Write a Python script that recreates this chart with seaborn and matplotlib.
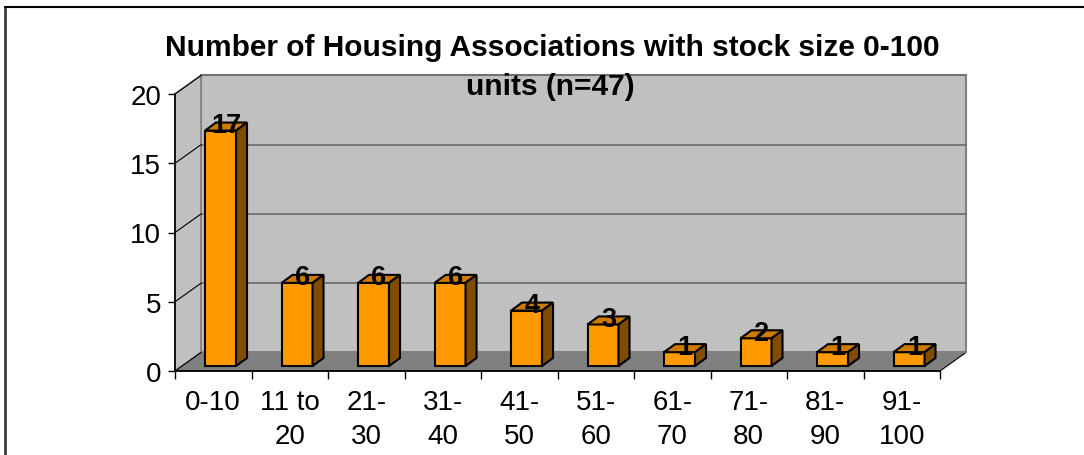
import matplotlib
matplotlib.use("Agg")
import matplotlib.pyplot as plt
from matplotlib.patches import Polygon
from matplotlib.lines import Line2D
import seaborn as sns
import pandas as pd

categories = ["0-10", "11 to\n20", "21-\n30", "31-\n40", "41-\n50",
              "51-\n60", "61-\n70", "71-\n80", "81-\n90", "91-\n100"]
values = [17, 6, 6, 6, 4, 3, 1, 2, 1, 1]
yticks = [0, 5, 10, 15, 20]
title_line1 = "Number of Housing Associations with stock size 0-100"
title_line2 = "units (n=47)"

sns.set_theme(style="white")
plt.rcParams["font.family"] = ["Liberation Sans", "DejaVu Sans"]

W, Hpx = 1084, 456
fig = plt.figure(figsize=(W / 100, Hpx / 100), dpi=100)
fig.patch.set_facecolor("white")
ax = fig.add_axes([175 / W, 1 - 372 / Hpx, 765 / W, (372 - 95) / Hpx])
ax.set_facecolor("none")

df = pd.DataFrame({"cat": categories, "val": values})
sns.barplot(data=df, x="cat", y="val", ax=ax, color="#FF9900", saturation=1,
            width=0.405, edgecolor="black", linewidth=1.5, zorder=3)
bars = list(ax.patches)

ax.set_xlim(-0.5, len(categories) - 0.5)
ax.set_ylim(0, 20)

# 3D depth parameters (data units)
D, H = 0.34, 1.34          # full floor depth
ox, oy = 0.095, 0.36       # bar offset into depth
bd, bh = 0.144, 0.58       # bar depth

x0, x1 = -0.5, len(categories) - 0.5
ytop = yticks[-1]

# floor
ax.add_patch(Polygon([(x0, 0), (x1, 0), (x1 + D, H), (x0 + D, H)], closed=True,
                     facecolor="#808080", edgecolor="black", linewidth=0.8,
                     zorder=0.5, clip_on=False))
# back wall
ax.add_patch(Polygon([(x0 + D, H), (x1 + D, H), (x1 + D, ytop + H), (x0 + D, ytop + H)],
                     closed=True, facecolor="#C0C0C0", edgecolor="#808080",
                     linewidth=1.5, zorder=0.5, clip_on=False))
# left wall
ax.add_patch(Polygon([(x0, 0), (x0 + D, H), (x0 + D, ytop + H), (x0, ytop)], closed=True,
                     facecolor="#C0C0C0", edgecolor="#808080", linewidth=1.2,
                     zorder=0.5, clip_on=False))
# gridlines
for v in yticks[1:]:
    ax.plot([x0 + D, x1 + D], [v + H, v + H], color="#707070", lw=1.3, zorder=0.6,
            clip_on=False)
for v in yticks:
    ax.plot([x0, x0 + D], [v, v + H], color="black", lw=0.8, zorder=0.7, clip_on=False)

# bars: shift into depth and add top / side faces
for p, v in zip(bars, values):
    p.set_x(p.get_x() + ox)
    p.set_y(p.get_y() + oy)
    bx0 = p.get_x()
    bx1 = bx0 + p.get_width()
    by0 = p.get_y()
    by1 = by0 + p.get_height()
    ax.add_patch(Polygon([(bx0, by1), (bx1, by1), (bx1 + bd, by1 + bh), (bx0 + bd, by1 + bh)],
                         closed=True, facecolor="#CC7A00", edgecolor="black",
                         linewidth=1.5, zorder=3))
    ax.add_patch(Polygon([(bx1, by0), (bx1 + bd, by0 + bh), (bx1 + bd, by1 + bh), (bx1, by1)],
                         closed=True, facecolor="#7F4C00", edgecolor="black",
                         linewidth=1.5, zorder=3))
    ax.text((bx0 + bx1) / 2 + bd / 2, by1 - 0.1, str(v), ha="center", va="baseline",
            fontsize=19.5, fontweight="bold", color="black", zorder=5)

# axes styling
for s in ["top", "right"]:
    ax.spines[s].set_visible(False)
ax.spines["left"].set_color("black")
ax.spines["bottom"].set_color("black")
ax.spines["left"].set_linewidth(1.2)
ax.spines["bottom"].set_linewidth(1.2)
ax.spines["left"].set_zorder(4)
ax.spines["bottom"].set_zorder(4)

ax.set_yticks(yticks)
ax.set_yticklabels([str(t) for t in yticks], fontsize=20, color="black")
ax.tick_params(axis="y", direction="out", length=5, width=1, color="black", pad=5,
               left=True)
ax.set_xticks(range(len(categories)))
ax.set_xticklabels(categories, fontsize=20, color="black", linespacing=1.4)
ax.tick_params(axis="x", which="major", length=0, pad=13)
ax.set_xticks([i - 0.5 for i in range(len(categories) + 1)], minor=True)
ax.tick_params(axis="x", which="minor", direction="out", length=6, width=1,
               color="black", bottom=True)
ax.set_xlabel("")
ax.set_ylabel("")
ax.grid(False)

# title
fig.text(552 / W, 1 - 56 / Hpx, title_line1, ha="center", va="baseline",
         fontsize=21.5, fontweight="bold", color="black")
fig.text(550 / W, 1 - 95 / Hpx, title_line2, ha="center", va="baseline",
         fontsize=21.5, fontweight="bold", color="black", zorder=10)

# chart border
fig.add_artist(Line2D([5 / W, 5 / W], [0, 1 - 8 / Hpx], color="#404040", lw=2))
fig.add_artist(Line2D([5 / W, 1], [1 - 8 / Hpx, 1 - 8 / Hpx], color="black", lw=1.5))

fig.savefig("out.png", dpi=100, facecolor="white")
